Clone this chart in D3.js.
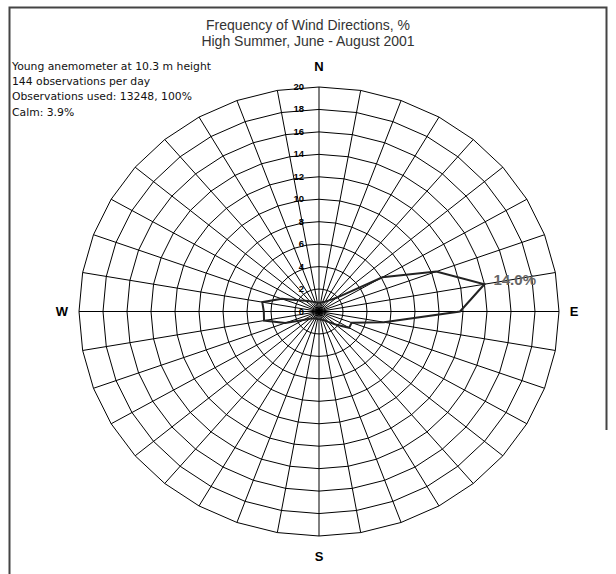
<!DOCTYPE html>
<html><head><meta charset="utf-8">
<script src="https://cdn.jsdelivr.net/npm/d3@7"></script>
<style>body{margin:0;background:#fff}svg{display:block}</style>
</head><body>
<script>
const titleLines = ["Frequency of Wind Directions, %", "High Summer, June - August 2001"];
const infoLines = ["Young anemometer at 10.3 m height", "144 observations per day", "Observations used: 13248, 100%", "Calm: 3.9%"];
const directions = [0,10,20,30,40,50,60,70,80,90,100,110,120,130,140,150,160,170,180,190,200,210,220,230,240,250,260,270,280,290,300,310,320,330,340,350];
const frequency = [0.8,0.8,0.9,1.0,1.3,1.9,6.1,10.4,14.0,11.75,5.5,2.9,2.9,1.8,1.2,0.9,0.8,0.7,0.7,0.7,0.7,0.7,0.8,1.0,1.5,3.0,4.65,4.6,4.8,3.3,2.0,1.5,1.2,1.0,0.9,0.8];
const ringTicks = [0,2,4,6,8,10,12,14,16,18,20];
const compass = [{t:"N",a:0},{t:"E",a:90},{t:"S",a:180},{t:"W",a:270}];
const maxLabel = "14.0%";

const W = 616, H = 574, cx = 319, cy = 311.5;
const svg = d3.select("body").append("svg").attr("width", W).attr("height", H);
const rx = d3.scaleLinear().domain([0, 20]).range([0, 240]);
const ry = d3.scaleLinear().domain([0, 20]).range([0, 224.5]);
const pt = (a, v) => { const t = a * Math.PI / 180; return [cx + rx(v) * Math.sin(t), cy - ry(v) * Math.cos(t)]; };

// frame
svg.append("path").attr("d", `M9.5,${H} V7.5 H606.5 V430`).attr("fill", "none").attr("stroke", "#444").attr("stroke-width", 2);

// title
svg.selectAll("text.title").data(titleLines).join("text").attr("class", "title")
  .attr("x", 308).attr("y", (d, i) => 30 + i * 16).attr("text-anchor", "middle")
  .attr("font-family", "Liberation Sans, Arial, sans-serif").attr("font-size", 14).attr("fill", "#333").text(d => d);

svg.selectAll("text.info").data(infoLines).join("text").attr("class", "info")
  .attr("x", 12).attr("y", (d, i) => 70 + i * 15.2)
  .attr("font-family", "DejaVu Sans, sans-serif").attr("font-size", 10.8).attr("fill", "#111").text(d => d);

const g = svg.append("g");
const line = d3.line();
ringTicks.filter(v => v > 0).forEach(v => {
  g.append("path").attr("d", line(directions.map(a => pt(a, v))) + "Z")
    .attr("fill", "none").attr("stroke", "#000").attr("stroke-width", 1);
});
g.selectAll("line.spoke").data(directions).join("line").attr("class", "spoke")
  .attr("x1", cx).attr("y1", cy).attr("x2", a => pt(a, 20)[0]).attr("y2", a => pt(a, 20)[1])
  .attr("stroke", "#000").attr("stroke-width", 1);

g.append("path").attr("d", line(directions.map((a, i) => pt(a, frequency[i]))) + "Z")
  .attr("fill", "none").attr("stroke", "#222").attr("stroke-width", 2).attr("stroke-linejoin", "miter");

g.selectAll("text.tick").data(ringTicks).join("text").attr("class", "tick")
  .attr("x", 304).attr("y", v => pt(0, v)[1] + 3).attr("text-anchor", "end")
  .attr("font-family", "Liberation Sans, Arial, sans-serif").attr("font-weight", "bold").attr("font-size", 9.5).attr("fill", "#000").text(v => v);

const cpos = {N: [319, 70.5], E: [574, 316], S: [319, 560.5], W: [62, 316]};
svg.selectAll("text.comp").data(compass).join("text").attr("class", "comp")
  .attr("x", d => cpos[d.t][0]).attr("y", d => cpos[d.t][1]).attr("text-anchor", "middle")
  .attr("font-family", "Liberation Sans, Arial, sans-serif").attr("font-weight", "bold").attr("font-size", 13).attr("fill", "#000").text(d => d.t);

const mi = frequency.indexOf(d3.max(frequency));
const mp = pt(directions[mi], frequency[mi]);
svg.append("text").attr("x", mp[0] + 9).attr("y", mp[1] + 0.5)
  .attr("font-family", "Liberation Sans, Arial, sans-serif").attr("font-weight", "bold").attr("font-size", 15).attr("fill", "#666").text(maxLabel);
</script>
</body></html>
